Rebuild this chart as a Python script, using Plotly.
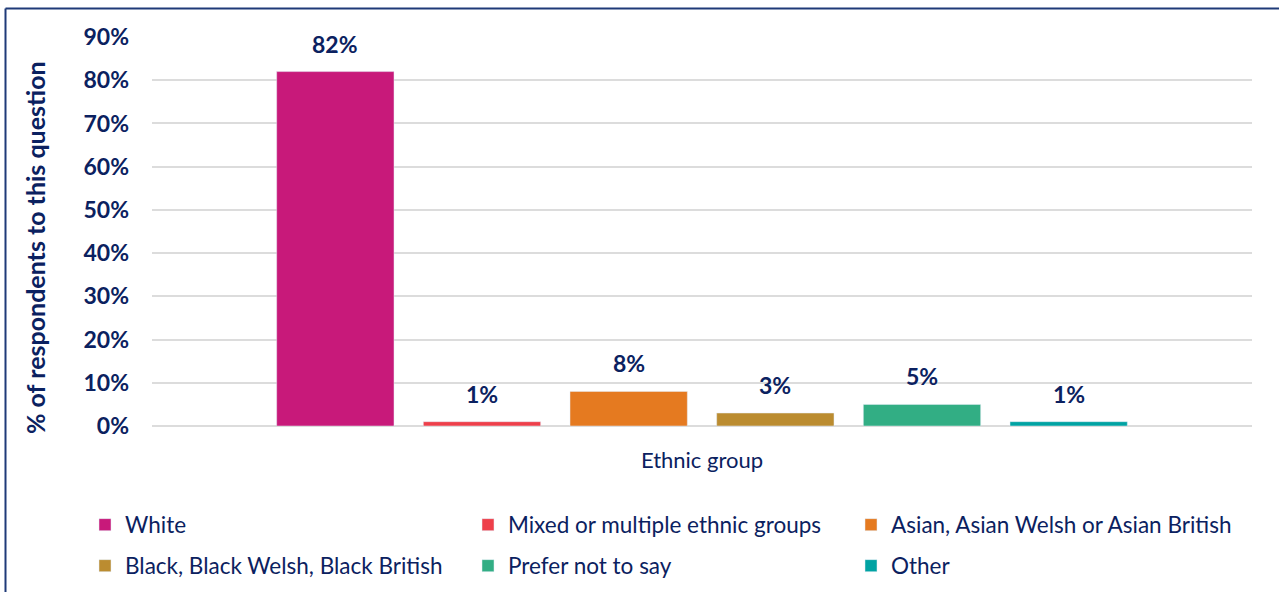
import plotly.graph_objects as go

# Survey responses by ethnic group (% of respondents to this question)
groups = [
    "White",
    "Mixed or multiple ethnic groups",
    "Asian, Asian Welsh or Asian British",
    "Black, Black Welsh, Black British",
    "Prefer not to say",
    "Other",
]
shares = [82, 1, 8, 3, 5, 1]
colors = ["#C8197A", "#EE3F4A", "#E57A20", "#BB8C30", "#32AE84", "#00A3A3"]
y_ticks = [0, 10, 20, 30, 40, 50, 60, 70, 80, 90]
y_tick_text = [f"{t}%" for t in y_ticks]

NAVY = "#0B2160"
FONT = "Lato"

W, H = 1279, 592
ML, MR, MT, MB = 152, 27, 37, 166
pw, ph = W - ML - MR, H - MT - MB


def px_x(x):
    return (x - ML) / pw


def px_y(y):
    return (H - MB - y) / ph


fig = go.Figure()
for i, (g, v, c) in enumerate(zip(groups, shares, colors)):
    fig.add_trace(go.Bar(
        x=[g], y=[v], name=g, marker_color=c, width=0.8,
        legend="legend" if i < 3 else "legend2",
        legendwidth=370 if i % 3 == 2 else None,
        hovertemplate="%{x}: %{y}%<extra></extra>",
    ))
    fig.add_annotation(
        x=g, y=v, text=f"<b>{v}%</b>", showarrow=False,
        yanchor="bottom", yshift=12,
        font=dict(family=FONT, size=23, color=NAVY),
    )

# y-axis title
fig.add_annotation(
    xref="paper", yref="paper", x=px_x(35), y=px_y(248),
    text="<b>% of respondents to this question</b>", textangle=-90,
    showarrow=False, xanchor="center", yanchor="middle",
    font=dict(family=FONT, size=25, color=NAVY),
)

# frame around the chart (extends past the right and bottom edges)
frame = dict(color="#1F3A78", width=2)
fig.add_shape(type="line", xref="paper", yref="paper", x0=px_x(5.5), x1=px_x(W + 5),
              y0=px_y(8.5), y1=px_y(8.5), line=frame, layer="above")
fig.add_shape(type="line", xref="paper", yref="paper", x0=px_x(5.5), x1=px_x(5.5),
              y0=px_y(8.5), y1=px_y(H + 5), line=frame, layer="above")

legend_common = dict(
    orientation="h", xanchor="left", yanchor="middle",
    x=px_x(85), entrywidth=338, entrywidthmode="pixels",
    font=dict(family=FONT, size=22.5, color=NAVY),
    bgcolor="rgba(0,0,0,0)", itemclick=False, itemdoubleclick=False,
)

fig.update_layout(
    width=W, height=H,
    margin=dict(l=ML, r=MR, t=MT, b=MB, autoexpand=False),
    paper_bgcolor="white", plot_bgcolor="white",
    barmode="overlay",
    font=dict(family=FONT, color=NAVY),
    legend=dict(**legend_common, y=px_y(525)),
    legend2=dict(**legend_common, y=px_y(566)),
    xaxis=dict(
        type="category", range=[-1.25, 6.25], showticklabels=False,
        showgrid=False, zeroline=False, showline=False, ticks="",
        title=dict(text="Ethnic group", standoff=26,
                   font=dict(family=FONT, size=22, color=NAVY)),
    ),
    yaxis=dict(
        range=[0, 90], tickvals=y_ticks, ticktext=y_tick_text,
        tickfont=dict(family=FONT, size=23, color=NAVY, weight="bold"),
        showgrid=True, gridcolor="#DCDCDC", gridwidth=2,
        zeroline=True, zerolinecolor="#DCDCDC", zerolinewidth=2,
        showline=False, ticks="", ticklabelstandoff=22,
    ),
    showlegend=True,
)

fig.write_html("out.html")
